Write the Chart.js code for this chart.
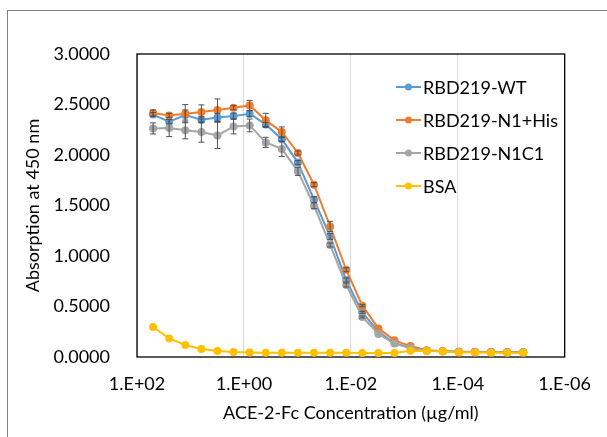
<!DOCTYPE html>
<html>
<head>
<meta charset="utf-8">
<script src="https://cdn.jsdelivr.net/npm/chart.js@4.4.0/dist/chart.umd.min.js"></script>
<style>
body{margin:0;background:#fff;}
</style>
</head>
<body>
<canvas id="myChart" width="607" height="437" style="width:607px;height:437px;display:block"></canvas>
<script>
// ACE-2-Fc concentration (ug/ml), 2-fold dilution
const conc = [50, 25, 12.5, 6.25, 3.125, 1.563, 0.7813, 0.3906, 0.1953, 0.09766, 0.04883, 0.02441,
  0.01221, 0.006104, 0.003052, 0.001526, 7.629e-4, 3.815e-4, 1.907e-4, 9.537e-5, 4.768e-5, 2.384e-5, 1.192e-5, 5.96e-6];

const wt = [2.400, 2.330, 2.396, 2.350, 2.372, 2.385, 2.409, 2.303, 2.156, 1.925, 1.557, 1.194,
  0.762, 0.442, 0.250, 0.139, 0.090, 0.063, 0.058, 0.052, 0.050, 0.049, 0.048, 0.047];
const n1his = [2.416, 2.392, 2.409, 2.426, 2.445, 2.468, 2.491, 2.343, 2.228, 2.020, 1.706, 1.293,
  0.864, 0.508, 0.283, 0.165, 0.108, 0.068, 0.060, 0.053, 0.051, 0.050, 0.049, 0.048];
const n1c1 = [2.263, 2.267, 2.244, 2.227, 2.194, 2.283, 2.293, 2.125, 2.060, 1.838, 1.498, 1.109,
  0.713, 0.396, 0.228, 0.134, 0.090, 0.062, 0.056, 0.050, 0.049, 0.048, 0.047, 0.046];
const bsa = [0.297, 0.184, 0.119, 0.079, 0.059, 0.049, 0.044, 0.042, 0.041, 0.041, 0.041, 0.042,
  0.042, 0.040, 0.039, 0.040, 0.062, 0.060, 0.055, 0.045, 0.044, 0.043, 0.043, 0.043];

// error bars (+/-)
const wtErr = [0.02, 0.02, 0.05, 0.03, 0.04, 0.03, 0.03, 0.02, 0.02, 0.02, 0.03, 0.03,
  0.02, 0.01, 0, 0, 0, 0, 0, 0, 0, 0, 0, 0];
const n1hisErr = [0.03, 0.02, 0.09, 0.07, 0.11, 0.02, 0.05, 0.07, 0.05, 0.02, 0.02, 0.05,
  0.02, 0.01, 0, 0, 0, 0, 0, 0, 0, 0, 0, 0];
const n1c1Err = [0.055, 0.085, 0.084, 0.10, 0.13, 0.074, 0.063, 0.05, 0.074, 0.04, 0.03, 0.02,
  0.02, 0.01, 0, 0, 0, 0, 0, 0, 0, 0, 0, 0];
const bsaErr = [0, 0, 0, 0, 0, 0, 0, 0, 0, 0, 0, 0,
  0, 0, 0, 0, 0, 0, 0, 0, 0, 0, 0, 0];

const names = ["RBD219-WT", "RBD219-N1+His", "RBD219-N1C1", "BSA"];
const colors = ['#5B9BD5', '#ED7D31', '#A5A5A5', '#FFC000'];
const xTicks = [1e2, 1e0, 1e-2, 1e-4, 1e-6];
const yTicks = [0, 0.5, 1, 1.5, 2, 2.5, 3];

const FONT = 'Lato, "Open Sans", sans-serif';
const FS = 18;

function pts(vals){
  return vals.map((v, i) => ({x: conc[i], y: v}));
}
function expLabel(v){
  let e = Math.round(Math.log10(v));
  return '1.E' + (e < 0 ? '-' : '+') + String(Math.abs(e)).padStart(2, '0');
}

const allVals = [wt, n1his, n1c1, bsa];
const allErr = [wtErr, n1hisErr, n1c1Err, bsaErr];

let datasets = [];
for (let i = 0; i < 4; i++) {
  datasets.push({
    label: names[i],
    data: pts(allVals[i]),
    err: allErr[i],
    borderColor: colors[i],
    backgroundColor: colors[i],
    borderWidth: 2,
    pointRadius: 4,
    pointBorderWidth: 0,
    tension: 0,
    order: 3 - i
  });
}

const frame = {
  id: 'frame',
  beforeDraw(chart){
    const c = chart.ctx;
    c.save();
    c.fillStyle = '#fff';
    c.fillRect(0, 0, chart.width, chart.height);
    c.strokeStyle = '#808080';
    c.lineWidth = 1;
    c.strokeRect(7.5, 10.5, 700, 500);
    c.restore();
  },
  beforeDatasetsDraw(chart){
    const a = chart.chartArea, c = chart.ctx;
    c.save();
    c.strokeStyle = '#000';
    c.lineWidth = 1.3;
    c.strokeRect(a.left, a.top, a.right - a.left, a.bottom - a.top);
    c.restore();
  }
};

const errorBars = {
  id: 'errorBars',
  afterDatasetsDraw(chart){
    const c = chart.ctx, ys = chart.scales.y;
    c.save();
    c.strokeStyle = '#505050';
    c.lineWidth = 1;
    chart.data.datasets.forEach((ds, i) => {
      const meta = chart.getDatasetMeta(i);
      meta.data.forEach((p, j) => {
        const e = ds.err[j];
        if (!e) return;
        const t = ys.getPixelForValue(ds.data[j].y + e);
        const b = ys.getPixelForValue(ds.data[j].y - e);
        c.beginPath();
        c.moveTo(p.x, t); c.lineTo(p.x, b);
        c.moveTo(p.x - 3, t); c.lineTo(p.x + 3, t);
        c.moveTo(p.x - 3, b); c.lineTo(p.x + 3, b);
        c.stroke();
      });
    });
    c.restore();
  }
};

const legendBox = {
  id: 'legendBox',
  afterDraw(chart){
    const c = chart.ctx;
    c.save();
    c.font = FS + 'px ' + FONT;
    c.textBaseline = 'middle';
    c.textAlign = 'left';
    chart.data.datasets.forEach((ds, i) => {
      const y = 87 + i * 33;
      c.strokeStyle = ds.borderColor;
      c.lineWidth = 2;
      c.beginPath(); c.moveTo(396, y); c.lineTo(421, y); c.stroke();
      c.fillStyle = ds.backgroundColor;
      c.beginPath(); c.arc(408.5, y, 3.5, 0, Math.PI * 2); c.fill();
      c.fillStyle = '#000';
      c.fillText(ds.label, 423, y + 1);
    });
    c.restore();
  }
};

const ctx = document.getElementById('myChart');
new Chart(ctx, {
  type: 'line',
  data: {datasets: datasets},
  plugins: [frame, errorBars, legendBox],
  options: {
    responsive: false,
    animation: false,
    layout: {padding: {top: 54, right: 32, left: 0, bottom: 0}},
    plugins: {legend: {display: false}, tooltip: {enabled: false}},
    scales: {
      x: {
        type: 'logarithmic',
        reverse: true,
        min: 1e-6,
        max: 1e2,
        afterBuildTicks: s => { s.ticks = xTicks.map(v => ({value: v})); },
        afterFit: s => { s.height = 80; },
        ticks: {
          callback: v => expLabel(v),
          color: '#000',
          font: {family: FONT, size: FS},
          padding: 16,
          maxRotation: 0,
          autoSkip: false
        },
        grid: {color: '#D9D9D9', lineWidth: 1, drawTicks: false},
        border: {display: false},
        title: {
          display: true,
          text: 'ACE-2-Fc Concentration (µg/ml)',
          color: '#000',
          font: {family: FONT, size: FS},
          padding: {top: 0, bottom: 13}
        }
      },
      y: {
        min: 0,
        max: 3,
        afterBuildTicks: s => { s.ticks = yTicks.map(v => ({value: v})); },
        afterFit: s => { s.width = 137; },
        ticks: {
          callback: v => v.toFixed(4),
          color: '#000',
          font: {family: FONT, size: FS},
          padding: 19
        },
        grid: {display: false},
        border: {display: false},
        title: {
          display: true,
          text: 'Absorption at 450 nm',
          color: '#000',
          font: {family: FONT, size: FS},
          padding: {top: 22, bottom: 0}
        }
      }
    }
  }
});
</script>
</body>
</html>
